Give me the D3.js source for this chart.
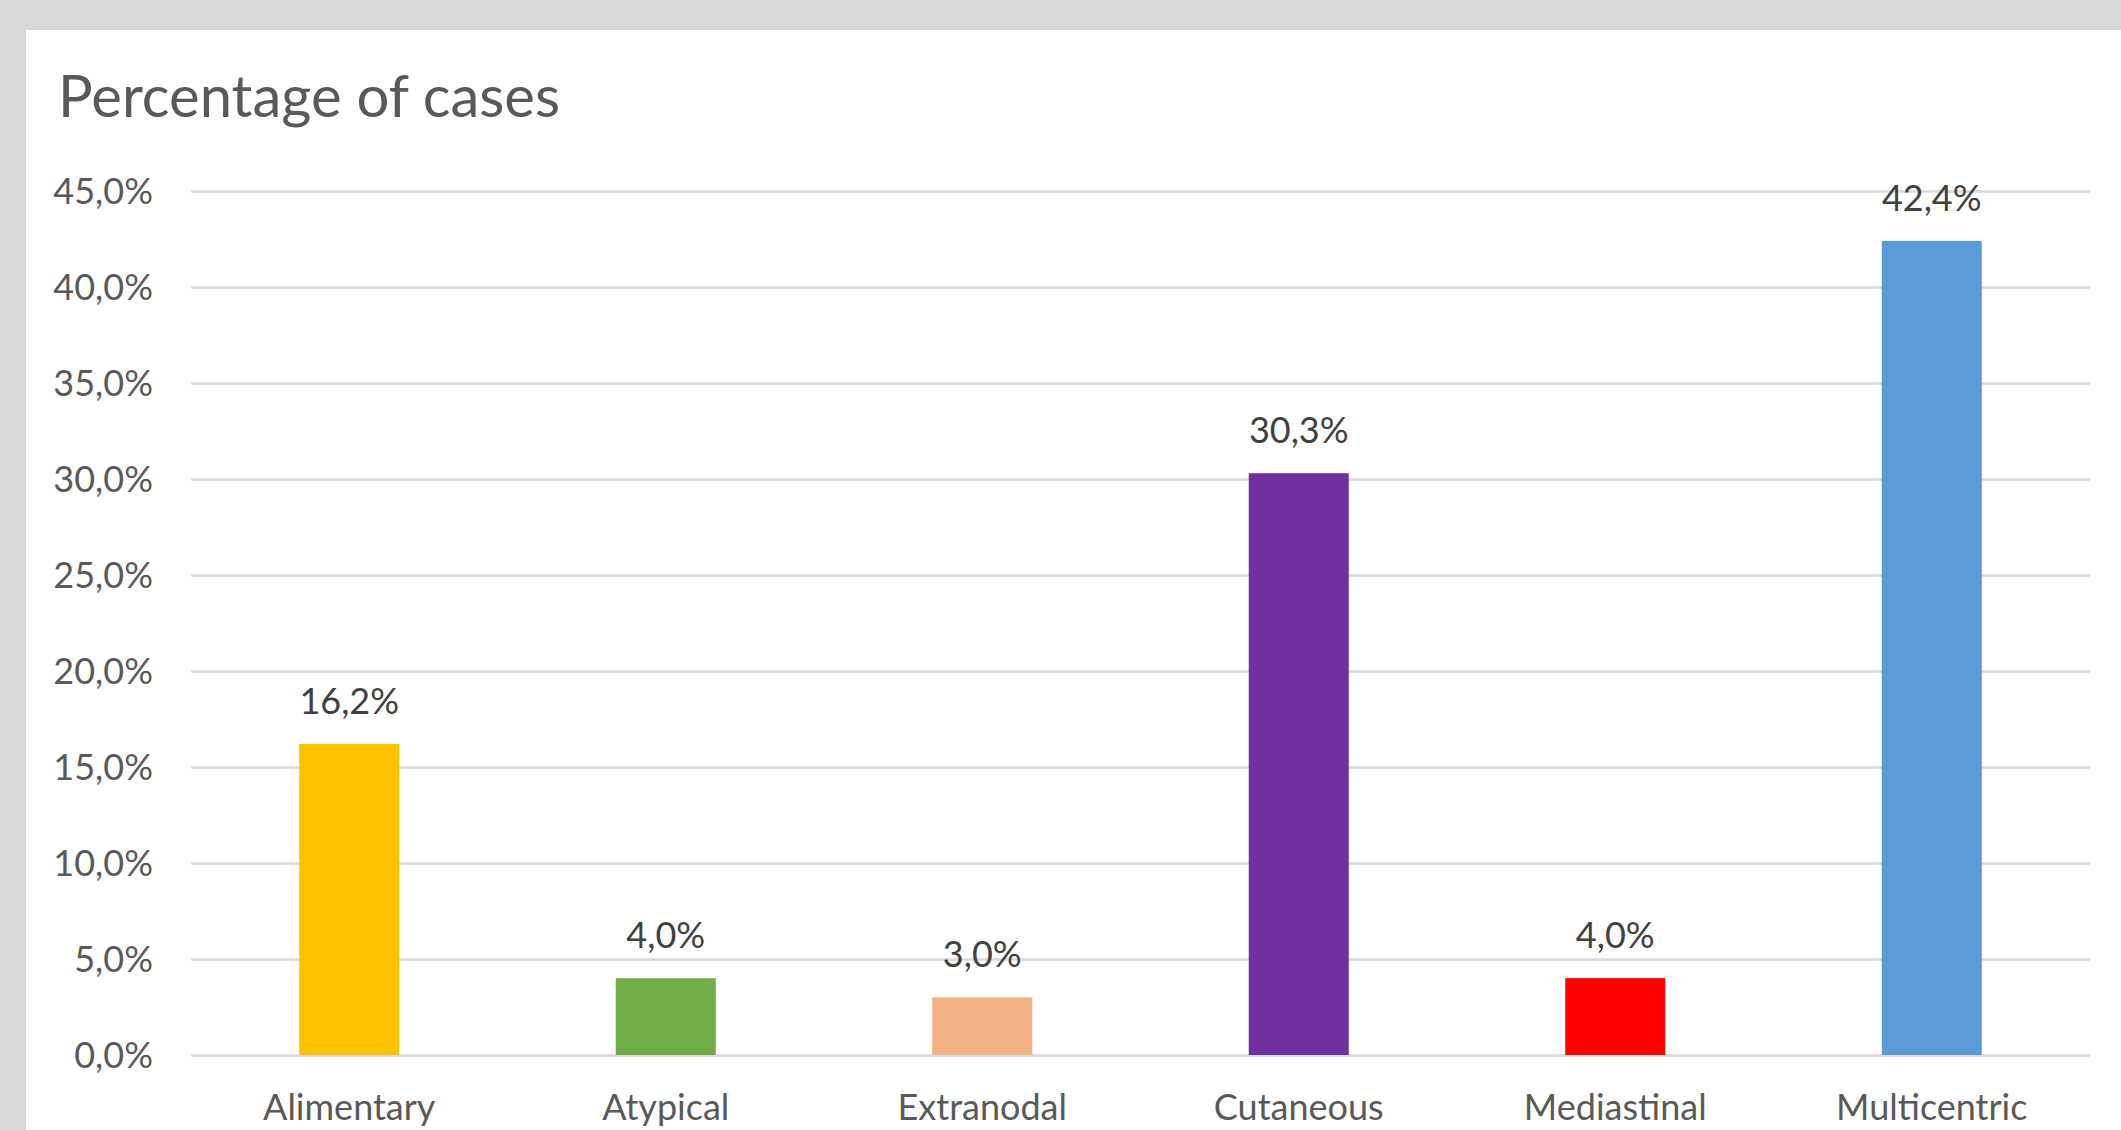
<!DOCTYPE html>
<meta charset="utf-8">
<style>
  body { margin: 0; background: #d9d9d9; overflow: hidden; }
</style>

<!-- Load d3.js -->
<script src="https://d3js.org/d3.v7.min.js"></script>

<!-- Create a div where the graph will take place -->
<div id="my_dataviz"></div>

<script>

// data
var categories = ["Alimentary", "Atypical", "Extranodal", "Cutaneous", "Mediastinal", "Multicentric"]
var values = [16.2, 4.0, 3.0, 30.3, 4.0, 42.4]
var barColors = ["#ffc000", "#70ad47", "#f4b183", "#7030a0", "#ff0000", "#5b9bd5"]
var yTicks = [0, 5, 10, 15, 20, 25, 30, 35, 40, 45]
var title = "Percentage of cases"

var W = 2121, H = 1130
var margin = {top: 191, right: 31, bottom: 75, left: 191},
    width = W - margin.left - margin.right,
    height = H - margin.top - margin.bottom;

var FONT = "Lato, 'Open Sans', sans-serif"

// european number format, 45,0%
var locale = d3.formatLocale({decimal: ",", thousands: ".", grouping: [3], currency: ["", "€"]})
var fmt = locale.format(".1f")

var root = d3.select("#my_dataviz")
  .append("svg")
    .attr("width", W)
    .attr("height", H)
    .style("display", "block")
    .style("font-family", FONT)

// white chart area on the grey sheet
root.append("rect")
  .attr("x", 26)
  .attr("y", 30)
  .attr("width", W - 26)
  .attr("height", H - 30)
  .attr("fill", "#ffffff")

root.append("text")
  .attr("x", 58)
  .attr("y", 117)
  .attr("fill", "#595959")
  .style("font-size", "58px")
  .text(title)

var svg = root.append("g")
  .attr("transform", "translate(" + margin.left + "," + margin.top + ")")

// X scale, one slot per category
var pad = 0.684
var x = d3.scaleBand()
  .domain(categories)
  .range([0, width])
  .paddingInner(pad)
  .paddingOuter(pad / 2)

// Y scale
var y = d3.scaleLinear()
  .domain([0, 45])
  .range([height, 0])

// Y axis with gridlines
var yAxis = svg.append("g")
  .call(d3.axisLeft(y)
    .tickValues(yTicks)
    .tickSize(-width)
    .tickPadding(38)
    .tickFormat(function(d) { return fmt(d) + "%" }))
yAxis.attr("font-family", FONT)
yAxis.select(".domain").remove()
yAxis.selectAll("line")
  .attr("stroke", "#d9d9d9")
  .attr("stroke-width", 2.6)
yAxis.selectAll("text")
  .attr("fill", "#595959")
  .style("font-size", "36px")
  .attr("dy", "0.36em")

// X axis labels
var xAxis = svg.append("g")
  .attr("transform", "translate(0," + height + ")")
  .call(d3.axisBottom(x).tickSize(0).tickPadding(40))
xAxis.attr("font-family", FONT)
xAxis.select(".domain").remove()
xAxis.selectAll("text")
  .attr("fill", "#595959")
  .style("font-size", "36px")
  .attr("dy", "0.7em")

// bars
svg.selectAll("rect.bar")
  .data(values)
  .enter()
  .append("rect")
    .attr("class", "bar")
    .attr("x", function(d, i) { return x(categories[i]) })
    .attr("y", function(d) { return y(d) })
    .attr("width", x.bandwidth())
    .attr("height", function(d) { return height - y(d) })
    .attr("fill", function(d, i) { return barColors[i] })

// value labels
svg.selectAll("text.lab")
  .data(values)
  .enter()
  .append("text")
    .attr("class", "lab")
    .attr("x", function(d, i) { return x(categories[i]) + x.bandwidth() / 2 })
    .attr("y", function(d) { return y(d) - 30 })
    .attr("text-anchor", "middle")
    .attr("fill", "#404040")
    .style("font-size", "36px")
    .text(function(d) { return fmt(d) + "%" })

</script>
